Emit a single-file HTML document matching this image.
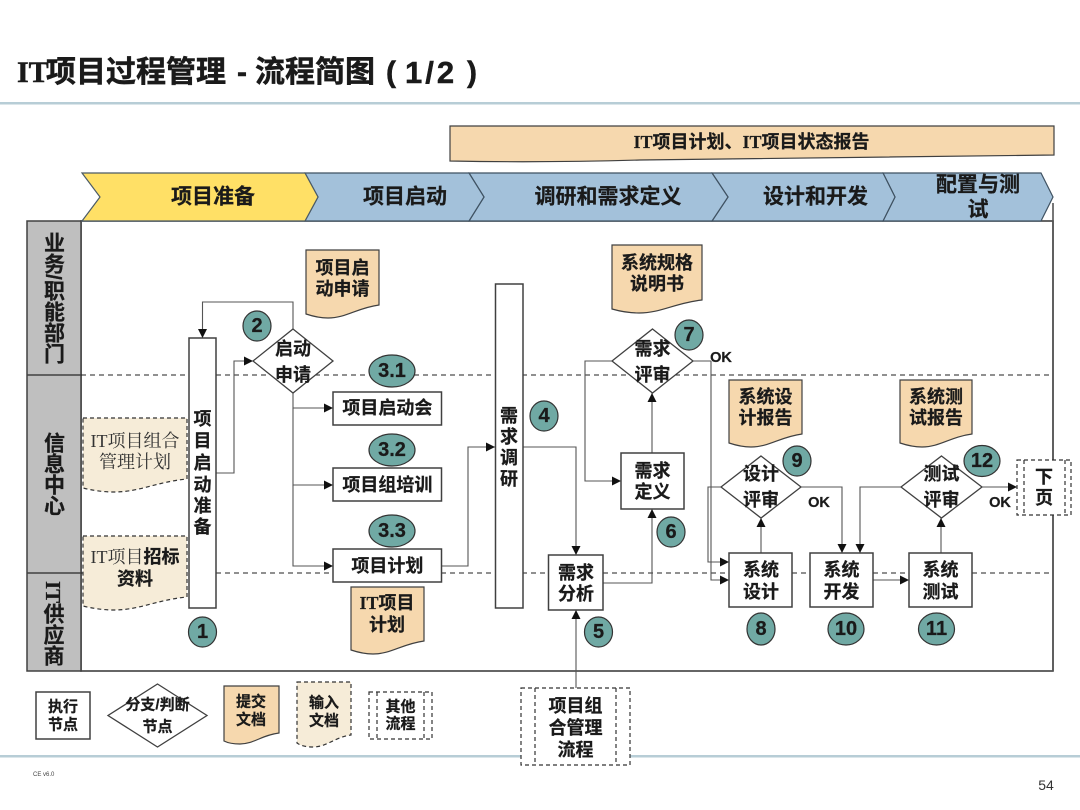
<!DOCTYPE html>
<html lang="zh-CN">
<head>
<meta charset="utf-8">
<title>IT项目过程管理 - 流程简图（1/2）</title>
<style>
html,body{margin:0;padding:0;background:#fff;width:1080px;height:810px;overflow:hidden}
svg{display:block;filter:blur(0.35px)}
text{font-family:"Liberation Sans","Noto Sans CJK SC",sans-serif;font-weight:700;fill:#1a1a1a;stroke:#1a1a1a;stroke-width:.25;text-anchor:middle;dominant-baseline:central}
.s{font-family:"Liberation Serif","Noto Sans CJK SC",serif}
.t18{font-size:18px}.t21{font-size:21px}.t15{font-size:15px}
.reg{font-weight:400;fill:#333;stroke:none;font-family:"Liberation Serif","Noto Serif CJK SC",serif}
.n{font-size:20px}
.box{fill:#fff;stroke:#404040;stroke-width:1.5}
.dia{fill:#fff;stroke:#404040;stroke-width:1.3}
.doc{fill:#f6d8ae;stroke:#404040;stroke-width:1.2}
.ddoc{fill:#f6ecd8;stroke:#333;stroke-width:1.2;stroke-dasharray:4 3}
.dbox{fill:#fff;stroke:#333;stroke-width:1.2;stroke-dasharray:4 3}
.dl{fill:none;stroke:#333;stroke-width:1.2;stroke-dasharray:4 3}
.c{fill:#70a9a4;stroke:#333;stroke-width:1.2}
.ln{fill:none;stroke:#555;stroke-width:1.1}
.a{marker-end:url(#ah)}
.lane{fill:#bfbfbf;stroke:#404040;stroke-width:1.5}
.y{fill:#ffe066;stroke:#4a5a66;stroke-width:1.2}
.b{fill:#a3c1da;stroke:#3f5262;stroke-width:1.2}
</style>
</head>
<body>
<svg width="1080" height="810" viewBox="0 0 1080 810" xmlns="http://www.w3.org/2000/svg">
<defs>
<marker id="ah" markerUnits="userSpaceOnUse" markerWidth="9" markerHeight="9" refX="9" refY="4.5" orient="auto"><path d="M0,0 L9,4.5 L0,9 Z" fill="#111"/></marker>
</defs>

<!-- header -->
<text x="17" y="72" style="font-size:30px;text-anchor:start;stroke-width:.5"><tspan class="s" x="17">IT</tspan><tspan x="46">项目过程管理</tspan><tspan x="237">-</tspan><tspan x="255">流程简图</tspan><tspan x="386">(</tspan><tspan x="405" style="letter-spacing:3px;font-size:31px">1/2</tspan><tspan x="467">)</tspan></text>
<rect x="0" y="102" width="1080" height="2.5" fill="#b7cdd6"/>
<rect x="0" y="755" width="1080" height="2.5" fill="#b7cdd6"/>
<text x="33" y="775" style="font-size:6px;font-weight:400;text-anchor:start;fill:#444;stroke:none">CE v6.0</text>
<text x="1046" y="785" style="font-size:14px;font-weight:400;fill:#333;stroke:none">54</text>

<!-- top bar -->
<path d="M450,126 H1054 V155 C900,157 760,159 640,160 C570,162 500,162 450,161 Z" fill="#f6d8ae" stroke="#404040" stroke-width="1.2"/>
<text class="s t18" x="751.5" y="142">IT项目计划、IT项目状态报告</text>

<!-- lanes -->
<rect x="81" y="221" width="972" height="450" fill="#fff" stroke="#404040" stroke-width="1.6"/>
<path d="M1053,203 V671" stroke="#555" stroke-width="1.6" fill="none"/>
<rect class="lane" x="27" y="221" width="54" height="450"/>
<path d="M27,375 H81 M27,573 H81" stroke="#404040" stroke-width="1.4"/>
<path d="M81,375 H1053 M81,573 H1053" stroke="#222" stroke-width="1.1" stroke-dasharray="5 4" fill="none"/>
<text x="53" y="232" writing-mode="vertical-rl" style="font-size:21px;text-anchor:start;dominant-baseline:central">业务/职能部门</text>
<text x="53" y="432" writing-mode="vertical-rl" style="font-size:21px;text-anchor:start;dominant-baseline:central">信息中心</text>
<text class="s" x="53" y="581" writing-mode="vertical-rl" style="font-size:21px;text-anchor:start;dominant-baseline:central">IT供应商</text>

<!-- chevrons -->
<path class="b" d="M883,173 H1041 L1053,197 L1041,221 H883 L895,197 Z"/>
<path class="b" d="M712,173 H883 L895,197 L883,221 H712 L728,197 Z"/>
<path class="b" d="M469,173 H712 L728,197 L712,221 H469 L484,197 Z"/>
<path class="b" d="M305,173 H469 L484,197 L469,221 H305 L318,197 Z"/>
<path class="y" d="M82,173 H305 L318,197 L305,221 H82 L100,197 Z"/>
<text class="t21" x="213" y="197">项目准备</text>
<text class="t21" x="405" y="197">项目启动</text>
<text class="t21" x="608" y="197">调研和需求定义</text>
<text class="t21" x="815.5" y="197">设计和开发</text>
<text class="t21" x="978" y="185">配置与测</text>
<text class="t21" x="978" y="210">试</text>

<!-- connectors -->
<path class="ln a" d="M293,329 V302 H202.5 V338"/>
<path class="ln a" d="M216,473 H234 V361 H253"/>
<path class="ln a" d="M293,393 V408 H333"/>
<path class="ln a" d="M293,408 V485 H333"/>
<path class="ln a" d="M293,485 V566 H333"/>
<path class="ln a" d="M442,566 H468 V447 H495"/>
<path class="ln a" d="M523,447 H576 V555"/>
<path class="ln a" d="M603,583 H652 V509"/>
<path class="ln a" d="M652,453 V393"/>
<path class="ln a" d="M612,361 H585 V481 H621"/>
<path class="ln" d="M693,361 H711"/>
<path class="ln a" d="M711,361 V580 H729"/>
<path class="ln a" d="M721,487 H708 V562 H729"/>
<path class="ln a" d="M801,487 H842 V553"/>
<path class="ln a" d="M761,553 V518"/>
<path class="ln a" d="M873,580 H909"/>
<path class="ln a" d="M941,553 V518"/>
<path class="ln a" d="M901,487 H860 V553"/>
<path class="ln a" d="M982,487 H1017"/>
<path class="ln a" d="M576,688 V610"/>

<!-- dashed input docs -->
<path class="ddoc" d="M83,418 H187 V479 C156,482 140,492 114,492 C102,492 91,490 83,488 Z"/>
<text class="reg t18" x="135" y="441">IT项目组合</text>
<text class="reg t18" x="135" y="462">管理计划</text>
<path class="ddoc" d="M83,536 H187 V597 C156,600 140,610 114,610 C102,610 91,608 83,606 Z"/>
<text class="t18" x="135" y="557"><tspan class="reg">IT项目</tspan>招标</text>
<text class="t18" x="135" y="579">资料</text>

<!-- step 1 -->
<rect class="box" x="189" y="338" width="27" height="270"/>
<text class="t18" x="202.5" y="419">项</text>
<text class="t18" x="202.5" y="441">目</text>
<text class="t18" x="202.5" y="463">启</text>
<text class="t18" x="202.5" y="485">动</text>
<text class="t18" x="202.5" y="506">准</text>
<text class="t18" x="202.5" y="527">备</text>
<ellipse class="c" cx="202.5" cy="632" rx="14" ry="15"/><text class="n" x="202.5" y="632">1</text>

<!-- step 2 -->
<ellipse class="c" cx="257" cy="326" rx="14" ry="15"/><text class="n" x="257" y="326">2</text>
<polygon class="dia" points="293,329 333,361 293,393 253,361"/>
<text class="t18" x="293" y="349">启动</text>
<text class="t18" x="293" y="375">申请</text>
<path class="doc" d="M306,250 H379 V305 C357,308 346,318 328,318 C319,318 312,316 306,314 Z"/>
<text class="t18" x="342.5" y="268">项目启</text>
<text class="t18" x="342.5" y="289">动申请</text>

<!-- step 3 -->
<ellipse class="c" cx="392" cy="371" rx="23" ry="16"/><text class="n" x="392" y="371">3.1</text>
<rect class="box" x="333" y="392" width="108.5" height="33"/>
<text class="t18" x="387.4" y="408">项目启动会</text>
<ellipse class="c" cx="392" cy="450" rx="23" ry="16"/><text class="n" x="392" y="450">3.2</text>
<rect class="box" x="333" y="468" width="108.5" height="33"/>
<text class="t18" x="387.4" y="485">项目组培训</text>
<ellipse class="c" cx="392" cy="531" rx="23" ry="16"/><text class="n" x="392" y="531">3.3</text>
<rect class="box" x="333" y="549" width="108.5" height="33"/>
<text class="t18" x="387.4" y="566">项目计划</text>
<path class="doc" d="M351,587 H424 V641 C402,644 391,654 373,654 C364,654 357,652 351,650 Z"/>
<text class="s t18" x="387" y="603">IT项目</text>
<text class="t18" x="387" y="625">计划</text>

<!-- step 4 -->
<rect class="box" x="495.5" y="284" width="27.5" height="324"/>
<text class="t18" x="509" y="416">需</text>
<text class="t18" x="509" y="437">求</text>
<text class="t18" x="509" y="458">调</text>
<text class="t18" x="509" y="479">研</text>
<ellipse class="c" cx="544" cy="416" rx="14" ry="15"/><text class="n" x="544" y="416">4</text>

<!-- step 5 -->
<rect class="box" x="548.5" y="555" width="54.5" height="55"/>
<text class="t18" x="576" y="573">需求</text>
<text class="t18" x="576" y="594">分析</text>
<ellipse class="c" cx="598.5" cy="632" rx="14" ry="15"/><text class="n" x="598.5" y="632">5</text>

<!-- step 6 -->
<rect class="box" x="621" y="453" width="63" height="56"/>
<text class="t18" x="652.5" y="471">需求</text>
<text class="t18" x="652.5" y="492">定义</text>
<ellipse class="c" cx="671" cy="532" rx="14" ry="15"/><text class="n" x="671" y="532">6</text>

<!-- step 7 -->
<polygon class="dia" points="652.5,329 693,361 652.5,393 612,361"/>
<text class="t18" x="652.5" y="349">需求</text>
<text class="t18" x="652.5" y="375">评审</text>
<ellipse class="c" cx="689" cy="335" rx="14" ry="15"/><text class="n" x="689" y="335">7</text>
<text x="721" y="358" style="font-size:14.5px">OK</text>
<path class="doc" d="M612,245 H702 V300 C675,303 661,313 639,313 C628,313 619,311 612,309 Z"/>
<text class="t18" x="657" y="263">系统规格</text>
<text class="t18" x="657" y="284">说明书</text>

<!-- design -->
<path class="doc" d="M729,380 H802 V434 C780,437 769,447 751,447 C742,447 735,445 729,443 Z"/>
<text class="t18" x="765.5" y="397">系统设</text>
<text class="t18" x="765.5" y="418">计报告</text>
<polygon class="dia" points="761,456 801,487 761,518 721,487"/>
<text class="t18" x="761" y="474">设计</text>
<text class="t18" x="761" y="500">评审</text>
<ellipse class="c" cx="797" cy="461" rx="14" ry="15"/><text class="n" x="797" y="461">9</text>
<text x="819" y="503" style="font-size:14.5px">OK</text>
<rect class="box" x="729" y="553" width="63" height="54"/>
<text class="t18" x="761" y="570">系统</text>
<text class="t18" x="761" y="592">设计</text>
<ellipse class="c" cx="761" cy="629" rx="14" ry="16"/><text class="n" x="761" y="629">8</text>

<!-- dev -->
<rect class="box" x="810" y="553" width="63" height="54"/>
<text class="t18" x="841.5" y="570">系统</text>
<text class="t18" x="841.5" y="592">开发</text>
<ellipse class="c" cx="846" cy="629" rx="18" ry="16"/><text class="n" x="846" y="629">10</text>

<!-- test -->
<path class="doc" d="M900,380 H972 V434 C950,437 940,447 922,447 C913,447 906,445 900,443 Z"/>
<text class="t18" x="936" y="397">系统测</text>
<text class="t18" x="936" y="418">试报告</text>
<polygon class="dia" points="941.5,456 982,487 941.5,518 901,487"/>
<text class="t18" x="941.5" y="474">测试</text>
<text class="t18" x="941.5" y="500">评审</text>
<ellipse class="c" cx="982" cy="461" rx="18" ry="15.5"/><text class="n" x="982" y="461">12</text>
<text x="1000" y="503" style="font-size:14.5px">OK</text>
<rect class="box" x="909" y="553" width="63" height="54"/>
<text class="t18" x="940.5" y="570">系统</text>
<text class="t18" x="940.5" y="592">测试</text>
<ellipse class="c" cx="936.5" cy="629" rx="18" ry="16"/><text class="n" x="936.5" y="629">11</text>

<!-- next page -->
<rect class="dbox" x="1017" y="460" width="54" height="55"/>
<path class="dl" d="M1024,460 V515 M1065,460 V515"/>
<text class="t18" x="1044" y="477">下</text>
<text class="t18" x="1044" y="498">页</text>

<!-- portfolio process -->
<rect class="dbox" x="521" y="688" width="109" height="77"/>
<path class="dl" d="M535,688 V765 M616,688 V765"/>
<text class="t18" x="575.5" y="706">项目组</text>
<text class="t18" x="575.5" y="728">合管理</text>
<text class="t18" x="575.5" y="750">流程</text>

<!-- legend -->
<rect class="box" x="36" y="692" width="54" height="47"/>
<text class="t15" x="63" y="707">执行</text>
<text class="t15" x="63" y="725">节点</text>
<polygon class="dia" points="157.5,684 207,715.5 157.5,747 108,715.5"/>
<text class="t15" x="157.5" y="705">分支/判断</text>
<text class="t15" x="157.5" y="727">节点</text>
<path class="doc" d="M224,686 H279 V733 C262,735 254,744 240,744 C234,744 228,743 224,741 Z"/>
<text class="t15" x="251" y="702">提交</text>
<text class="t15" x="251" y="720">文档</text>
<path class="ddoc" d="M297,682 H351 V735 C335,737 327,747 313,747 C307,747 301,746 297,743 Z"/>
<text class="t15" x="324" y="703">输入</text>
<text class="t15" x="324" y="721">文档</text>
<rect class="dbox" x="369" y="692" width="63" height="47"/>
<path class="dl" d="M377,692 V739 M424,692 V739"/>
<text class="t15" x="400.5" y="707">其他</text>
<text class="t15" x="400.5" y="724">流程</text>
</svg>
</body>
</html>
